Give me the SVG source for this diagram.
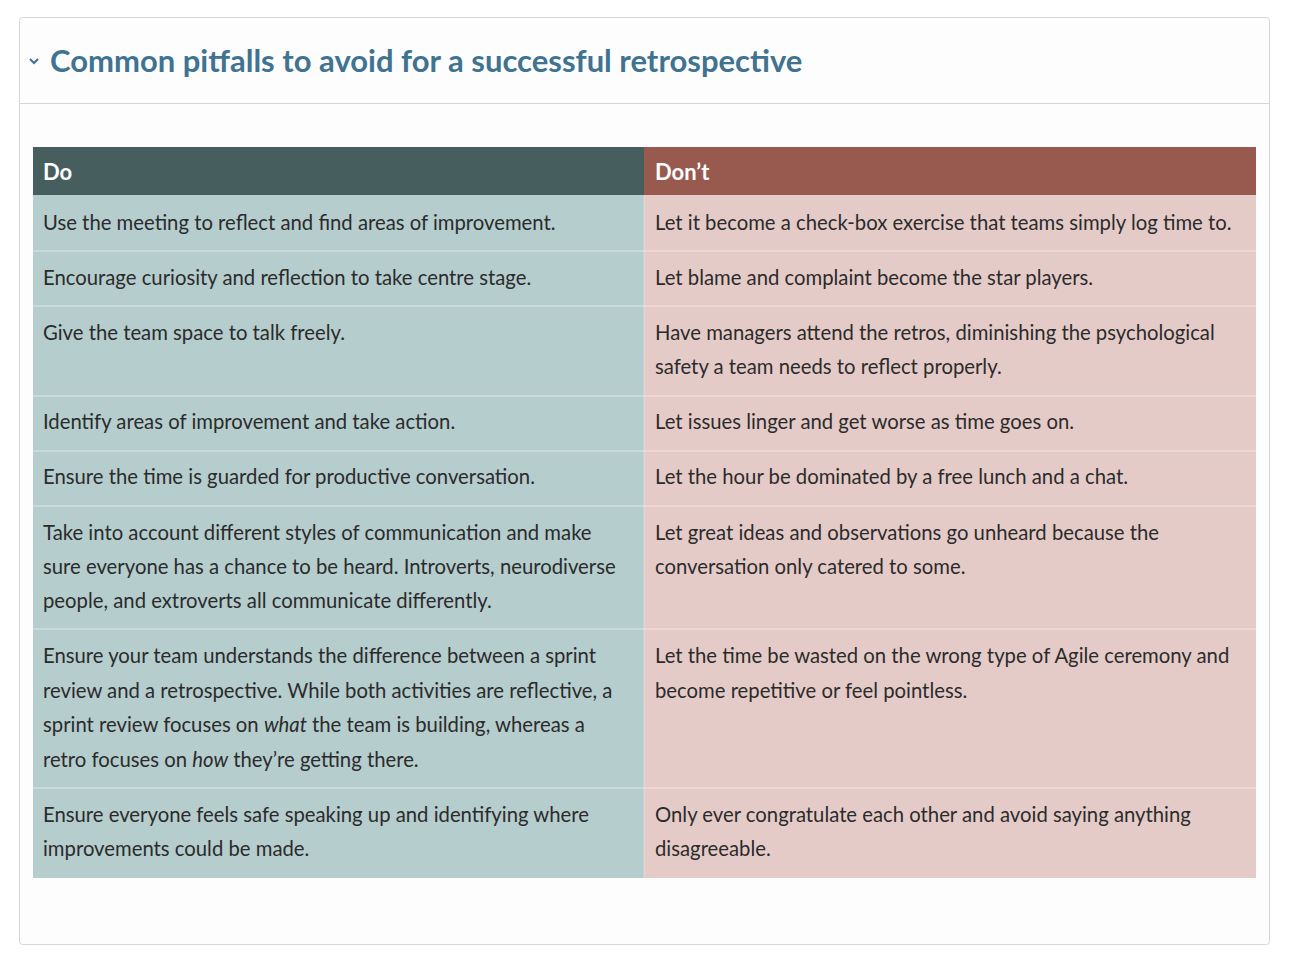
<svg xmlns="http://www.w3.org/2000/svg" width="1296" height="965" viewBox="0 0 1296 965">
<style>
text{font-family:Lato,"Liberation Sans",sans-serif;fill:#2b2b2b;font-size:20.3px}
.h{fill:#fff;font-weight:bold;font-size:22px}
.t{fill:#3f7391;font-weight:bold;font-size:31px}
.do{fill:#b5cdcd}.dn{fill:#e5cbc8}
.sep{stroke:#ffffff;stroke-opacity:.35;stroke-width:1.5}
</style>
<rect width="1296" height="965" fill="#fff"/>
<g id="card">
<rect x="19.5" y="17.5" width="1250" height="927" rx="3" fill="#fdfdfd" stroke="#d6d6d6"/>
<line x1="20" y1="103.5" x2="1269" y2="103.5" stroke="#d6d6d6"/>
<path d="M30 59 l4 4 l4 -4" fill="none" stroke="#3f7391" stroke-width="2"/>
<text class="t" x="50" y="72">Common pitfalls to avoid for a successful retrospective</text>
</g>
<g id="table">
<rect x="33" y="147" width="611" height="48" fill="#465f5e"/>
<rect x="644" y="147" width="612" height="48" fill="#985a4e"/>
<text class="h" x="43" y="180">Do</text>
<text class="h" x="655" y="180">Don’t</text>
<rect class="do" x="33" y="195" width="611" height="683"/>
<rect class="dn" x="644" y="195" width="612" height="683"/>
<line x1="644" y1="195" x2="644" y2="878" stroke="#fff" stroke-opacity=".3"/>
<g class="sep">
<line x1="33" y1="251" x2="1256" y2="251"/>
<line x1="33" y1="306" x2="1256" y2="306"/>
<line x1="33" y1="396" x2="1256" y2="396"/>
<line x1="33" y1="451" x2="1256" y2="451"/>
<line x1="33" y1="506" x2="1256" y2="506"/>
<line x1="33" y1="629" x2="1256" y2="629"/>
<line x1="33" y1="788" x2="1256" y2="788"/>
</g>
<g id="do-col">
<text x="43" y="230">Use the meeting to reflect and find areas of improvement.</text>
<text x="43" y="285">Encourage curiosity and reflection to take centre stage.</text>
<text x="43" y="340">Give the team space to talk freely.</text>
<text x="43" y="429">Identify areas of improvement and take action.</text>
<text x="43" y="484">Ensure the time is guarded for productive conversation.</text>
<text x="43" y="540">Take into account different styles of communication and make</text>
<text x="43" y="574">sure everyone has a chance to be heard. Introverts, neurodiverse</text>
<text x="43" y="608">people, and extroverts all communicate differently.</text>
<text x="43" y="663">Ensure your team understands the difference between a sprint</text>
<text x="43" y="698">review and a retrospective. While both activities are reflective, a</text>
<text x="43" y="732">sprint review focuses on <tspan font-style="italic">what</tspan> the team is building, whereas a</text>
<text x="43" y="767">retro focuses on <tspan font-style="italic">how</tspan> they’re getting there.</text>
<text x="43" y="822">Ensure everyone feels safe speaking up and identifying where</text>
<text x="43" y="856">improvements could be made.</text>
</g>
<g id="dont-col">
<text x="655" y="230">Let it become a check-box exercise that teams simply log time to.</text>
<text x="655" y="285">Let blame and complaint become the star players.</text>
<text x="655" y="340">Have managers attend the retros, diminishing the psychological</text>
<text x="655" y="374">safety a team needs to reflect properly.</text>
<text x="655" y="429">Let issues linger and get worse as time goes on.</text>
<text x="655" y="484">Let the hour be dominated by a free lunch and a chat.</text>
<text x="655" y="540">Let great ideas and observations go unheard because the</text>
<text x="655" y="574">conversation only catered to some.</text>
<text x="655" y="663">Let the time be wasted on the wrong type of Agile ceremony and</text>
<text x="655" y="698">become repetitive or feel pointless.</text>
<text x="655" y="822">Only ever congratulate each other and avoid saying anything</text>
<text x="655" y="856">disagreeable.</text>
</g>
</g>
</svg>
